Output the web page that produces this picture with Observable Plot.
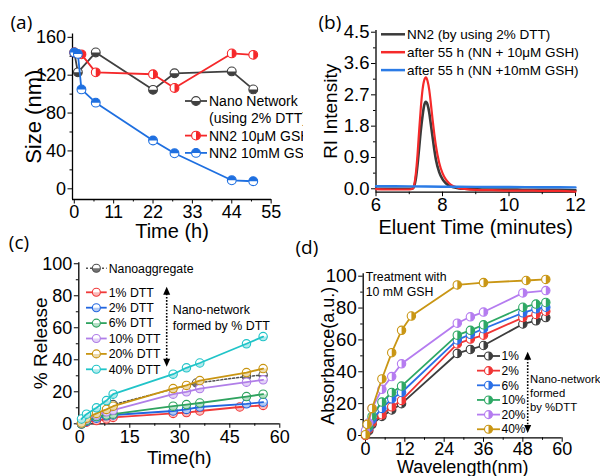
<!DOCTYPE html>
<html><head><meta charset="utf-8">
<script src="https://cdn.jsdelivr.net/npm/d3@7"></script>
<script src="https://cdn.jsdelivr.net/npm/@observablehq/plot@0.6"></script>
<style>
body{margin:0;background:#fff;}
#fig{position:relative;width:600px;height:476px;overflow:hidden;background:#fff;}
</style></head><body><div id="fig"></div>
<script>
// ---------- DATA ----------
// (a) size vs time
const aNanoTime = [0, 1, 6, 22, 28, 44, 50];
const aNanoSize = [144, 123, 144, 104.5, 122, 124, 105];
const aLowTime  = [0, 2, 6, 22, 28, 44, 50];
const aLowSize  = [144, 142, 123, 121, 106.5, 143, 141.5];
const aHighTime = [0, 1, 2, 6, 22, 28, 44, 50];
const aHighSize = [144, 142.5, 105, 91, 51, 37.5, 9, 8];
const aLabels = [["Nano Network", "(using 2% DTT)"], ["NN2 10μM GSH"], ["NN2 10mM GSH"]];
const aXTicks = [0, 11, 22, 33, 44, 55];
const aYTicks = [0, 40, 80, 120, 160];

// (b) GPC traces
const bTime = [6, 6.5, 7, 7.1, 7.15, 7.2, 7.25, 7.3, 7.35, 7.4, 7.45, 7.5, 7.55, 7.6, 7.65, 7.7, 7.75, 7.8, 7.9, 8.0, 8.1, 8.2, 8.3, 8.4, 8.5, 8.7, 9, 9.5, 10, 10.5, 11, 11.5, 12];
const bNN2    = [0, 0, 0, 0.01, 0.08, 0.3, 0.7, 1.2, 1.7, 2.1, 2.4, 2.5, 2.42, 2.2, 1.85, 1.5, 1.15, 0.85, 0.48, 0.28, 0.16, 0.09, 0.05, 0.03, 0.01, 0, -0.01, -0.02, -0.02, -0.03, -0.03, -0.03, -0.04];
const bLowGSH = [-0.01, -0.02, -0.02, 0, 0.12, 0.45, 1.0, 1.7, 2.35, 2.85, 3.12, 3.2, 3.1, 2.85, 2.45, 2.0, 1.6, 1.25, 0.75, 0.45, 0.27, 0.16, 0.09, 0.05, 0.02, -0.01, -0.03, -0.04, -0.05, -0.05, -0.06, -0.06, -0.08];
const bHighTime = [6, 7, 8, 9, 10, 11, 12];
const bHighGSH  = [0.075, 0.07, 0.06, 0.055, 0.05, 0.045, 0.04];
const bLabels = ["NN2 (by using 2% DTT)", "after 55 h (NN + 10μM GSH)", "after 55 h (NN +10mM GSH)"];
const bXTicks = [6, 8, 10, 12];
const bYTicks = [0, 0.9, 1.8, 2.7, 3.6, 4.5];

// (c) % release
const cTime    = [0.5, 2, 5, 8, 10, 28, 32, 36, 50, 55];
const cRedTime = [0.5, 2, 5, 8, 10, 28, 32, 36, 48, 55];
const cAggTime = [0.5, 2, 5, 8, 10, 35, 50, 55];
const cAgg   = [0, 2, 5, 8, 12, 25.5, 29.5, 30.5];
const cDTT1  = [0, 1, 2, 3, 4, 6.5, 7, 8, 10.5, 11.5];
const cDTT2  = [0, 1.5, 3.5, 5, 5.5, 8, 9, 10.5, 12.5, 13.5];
const cDTT6  = [0, 2, 4.5, 5.5, 6, 11, 12, 13, 17, 18.5];
const cDTT10 = [0.5, 3, 5.5, 7.5, 8.5, 18.5, 20, 22, 26, 27.5];
const cDTT20 = [0.5, 3.5, 6.5, 9, 11, 22, 24, 27, 32, 34.5];
const cDTT40 = [3, 6, 10, 14.5, 18.5, 31, 35, 38, 50, 54.5];
const cLabels = ["1% DTT", "2% DTT", "6% DTT", "10% DTT", "20% DTT", "40% DTT"];
const cXTicks = [0, 15, 30, 45, 60];
const cYTicks = [0, 20, 40, 60, 80, 100];

// (d) absorbance
const dTime     = [0, 1, 2, 5, 8, 11, 28, 32, 36, 48, 52, 55];
const dTime20   = [0, 1, 2, 5, 8, 11, 28, 32, 36, 48, 55];
const dTime40   = [0, 0.5, 2, 5, 8, 11, 14, 28, 36, 49, 55];
const dP1  = [0, 3, 7, 12, 16, 20, 51.5, 54, 56.5, 70, 72, 74];
const dP2  = [0, 4, 8, 13, 18, 22, 57.5, 60.5, 63, 74, 76, 78];
const dP6  = [1, 5, 10, 17, 23, 27, 60, 63.5, 67, 77, 79.5, 80.5];
const dP10 = [2, 6, 12, 21, 27, 31, 63, 66, 69.5, 80.5, 82.5, 83.5];
const dP20 = [3, 8, 17, 29, 37, 45, 70.5, 74.5, 77.5, 89.5, 91];
const dP40 = [0.5, 7, 17, 35.5, 52, 66, 75, 94.5, 96, 97.3, 98];
const dLabels = ["1%", "2%", "6%", "10%", "20%", "40%"];
const dXTicks = [0, 12, 24, 36, 48, 60];
const dYTicks = [0, 20, 40, 60, 80, 100];

// ---------- HELPERS ----------
const FONT = "'Liberation Sans', Arial, Helvetica, sans-serif";
const LABFONT = "'Open Sans', 'Liberation Sans', sans-serif";
function halfSym(a0) {
  return {draw(ctx, size) {
    const r = Math.sqrt(size / Math.PI);
    ctx.moveTo(r * Math.cos(a0), r * Math.sin(a0));
    ctx.arc(0, 0, r, a0, a0 + Math.PI);
    ctx.closePath();
  }};
}
const TOP = halfSym(Math.PI), BOTTOM = halfSym(0), RIGHT = halfSym(-Math.PI / 2), LEFT = halfSym(Math.PI / 2);
const rows = (xs, ys) => xs.map((x, i) => ({x, y: ys[i]}));
const mids = t => t.slice(1).map((v, i) => (v + t[i]) / 2);

function series(data, color, sym, o = {}) {
  const r = o.r ?? 4.4, sw = o.sw ?? 1.8;
  const line = Plot.line(data, {x: "x", y: "y", stroke: color, strokeWidth: sw, strokeDasharray: o.dash, curve: o.curve ?? "linear"});
  if (!sym) return [line];
  const circ = Plot.dot(data, {x: "x", y: "y", r, fill: "white", stroke: color, strokeWidth: 1.1});
  const half = Plot.dot(data, {x: "x", y: "y", r, symbol: sym, fill: color, fillOpacity: o.halfOpacity ?? 1});
  return o.lineOnTop ? [circ, half, line] : [line, circ, half];
}

function axes(xTicks, yTicks, o = {}) {
  const fs = o.fontSize ?? 18;
  return [
    Plot.axisX({ticks: xTicks, tickSize: 4.5, tickPadding: o.xPad ?? 2, fontSize: o.xFontSize ?? fs, label: null, fontFamily: FONT, tickFormat: o.xFormat ?? d3.format("d")}),
    Plot.axisX(mids(xTicks), {tickSize: 2.5, fill: "none", label: null, tickFormat: () => ""}),
    Plot.axisY({ticks: yTicks, tickSize: 4.5, tickPadding: o.yPad ?? 2, fontSize: fs, label: null, fontFamily: FONT, tickFormat: o.yFormat ?? d3.format("d")}),
    Plot.axisY(mids(yTicks), {tickSize: 2.5, fill: "none", label: null, tickFormat: () => ""}),
    Plot.ruleX([o.xDomain[0]], {strokeWidth: 1.3}),
    Plot.ruleY([o.yDomain[0]], {strokeWidth: 1.3})
  ];
}

function titles(xTitle, yTitle, xdy, ydx, xfs = 20, yfs = 20) {
  return [
    Plot.text([xTitle], {frameAnchor: "bottom", dy: xdy, text: d => d, fontSize: xfs, textAnchor: "middle", lineAnchor: "middle", fontFamily: FONT}),
    Plot.text([yTitle], {frameAnchor: "left", dx: ydx, rotate: -90, text: d => d, fontSize: yfs, textAnchor: "middle", lineAnchor: "middle", fontFamily: FONT})
  ];
}
function panelLabel(t, dx, dy) {
  return Plot.text([t], {frameAnchor: "top-left", dx, dy, text: d => d, fontSize: 19, textAnchor: "start", lineAnchor: "middle", fontFamily: LABFONT});
}

// legend (frame-relative pixel layout)
function legend(entries, o) {
  return function (index, scales, values, dims) {
    const g = d3.create("svg:g").attr("font-family", FONT).attr("font-size", o.fontSize).attr("text-anchor", "start");
    if (o.clip) {
      const id = "clip" + Math.random().toString(36).slice(2);
      g.append("clipPath").attr("id", id).append("rect").attr("x", 0).attr("y", 0).attr("width", dims.width).attr("height", dims.height);
      g.attr("clip-path", `url(#${id})`);
    }
    const X = dims.marginLeft + o.x, Y0 = dims.marginTop + o.y;
    let row = 0;
    for (const e of entries) {
      const y = Y0 + row * o.step;
      g.append("line").attr("x1", X).attr("x2", X + o.len).attr("y1", y).attr("y2", y)
        .attr("stroke", e.color).attr("stroke-width", e.width ?? 1.8).attr("stroke-dasharray", e.dash ?? null);
      if (e.sym) {
        const cx = X + o.len / 2;
        g.append("circle").attr("cx", cx).attr("cy", y).attr("r", o.r).attr("fill", "white").attr("stroke", e.color).attr("stroke-width", 1.1);
        const p = d3.path(); e.sym.draw(p, o.r * o.r * Math.PI);
        g.append("path").attr("transform", `translate(${cx},${y})`).attr("d", p.toString()).attr("fill", e.color).attr("fill-opacity", e.halfOpacity ?? 1);
      }
      const lines = [].concat(e.label);
      lines.forEach((t, j) => g.append("text").attr("x", X + o.len + o.gap).attr("y", y + j * o.step).attr("dy", "0.35em").attr("fill", "black").text(t));
      row += lines.length;
    }
    return g.node();
  };
}
function note(lines, o) {
  return function (index, scales, values, dims) {
    const g = d3.create("svg:g").attr("font-family", FONT).attr("font-size", o.fontSize).attr("text-anchor", "start");
    lines.forEach((t, j) => g.append("text").attr("x", dims.marginLeft + o.x).attr("y", dims.marginTop + o.y + j * o.step).attr("dy", "0.35em").attr("fill", "black").text(t));
    return g.node();
  };
}
function dottedArrow(o) {
  return function (index, scales, values, dims) {
    const g = d3.create("svg:g");
    const x = dims.marginLeft + o.x, y1 = dims.marginTop + o.y1, y2 = dims.marginTop + o.y2, h = 8, w = 3.5;
    g.append("line").attr("x1", x).attr("x2", x).attr("y1", y1 + h - 1).attr("y2", y2 - h + 1)
      .attr("stroke", "black").attr("stroke-width", 1.6).attr("stroke-dasharray", "1.6,1.6");
    g.append("path").attr("d", `M${x},${y1}L${x - w},${y1 + h}L${x + w},${y1 + h}Z`).attr("fill", "black");
    g.append("path").attr("d", `M${x},${y2}L${x - w},${y2 - h}L${x + w},${y2 - h}Z`).attr("fill", "black");
    return g.node();
  };
}

const fig = document.getElementById("fig");
function panel(p) {
  const svg = Plot.plot({
    width: p.width, height: p.height,
    marginLeft: p.m[0], marginRight: p.m[1], marginTop: p.m[2], marginBottom: p.m[3],
    x: {domain: p.xDomain, label: null},
    y: {domain: p.yDomain, label: null},
    style: {fontFamily: FONT, background: "transparent", overflow: "visible", color: "black"},
    marks: p.marks
  });
  svg.style.position = "absolute";
  svg.style.left = p.left + "px";
  svg.style.top = p.top + "px";
  fig.appendChild(svg);
}

// ---------- PANEL (a) ----------
{
  const xDomain = [-0.5, 55.1], yDomain = [-11.3, 163.5];
  const cols = ["#404040", "#f5282a", "#1e6fe0"], syms = [BOTTOM, RIGHT, TOP];
  panel({
    left: 0, top: 0, width: 303, height: 232, m: [72, 32, 33.5, 33], xDomain, yDomain,
    marks: [
      ...axes(aXTicks, aYTicks, {xDomain, yDomain, xPad: 1.5}),
      ...series(rows(aNanoTime, aNanoSize), cols[0], syms[0]),
      ...series(rows(aLowTime, aLowSize), cols[1], syms[1]),
      ...series(rows(aHighTime, aHighSize), cols[2], syms[2]),
      legend(aLabels.map((l, i) => ({label: l, color: cols[i], sym: syms[i]})), {x: 113, y: 67.5, step: 17.3, len: 22, gap: 2, r: 4.4, fontSize: 14, clip: true}),
      ...titles("Time (h)", "Size (nm)", 32.5, -39, 20, 22),
      panelLabel("(a)", -62, -11.5)
    ]
  });
}

// ---------- PANEL (b) ----------
{
  const xDomain = [6, 12], yDomain = [-0.098, 4.549];
  const cols = ["#3a3a3a", "#f52a2a", "#2b7be6"];
  panel({
    left: 303, top: 0, width: 297, height: 232, m: [72.5, 25, 30, 40.3], xDomain, yDomain,
    marks: [
      ...axes(bXTicks, bYTicks, {xDomain, yDomain, yFormat: d3.format(".1f"), fontSize: 18.5, xPad: 1.5}),
      ...series(rows(bTime, bNN2), cols[0], null, {sw: 2.6, curve: "monotone-x"}),
      ...series(rows(bTime, bLowGSH), cols[1], null, {sw: 2.2, curve: "monotone-x"}),
      ...series(rows(bHighTime, bHighGSH), cols[2], null, {sw: 2.4, curve: "monotone-x"}),
      legend(bLabels.map((l, i) => ({label: l, color: cols[i], width: 2.5})), {x: 5.5, y: 4.3, step: 17.9, len: 24, gap: 2, r: 4, fontSize: 13.5}),
      ...titles("Eluent Time (minutes)", "RI Intensity", 35.5, -45, 20, 19),
      panelLabel("(b)", -57.5, -8)
    ]
  });
}

// ---------- PANEL (c) ----------
{
  const xDomain = [-0.3, 60], yDomain = [0, 100.6];
  const cols = ["#f03a3a", "#2266e0", "#2fa35f", "#b07ee8", "#c99512", "#20c4c8"];
  const vals = [cDTT1, cDTT2, cDTT6, cDTT10, cDTT20, cDTT40];
  const opt = {r: 4.2, sw: 1.8, halfOpacity: 0.35, lineOnTop: true};
  panel({
    left: 0, top: 232, width: 293, height: 244, m: [78.3, 13.7, 30.3, 52.7], xDomain, yDomain,
    marks: [
      ...axes(cXTicks, cYTicks, {xDomain, yDomain, xPad: 2}),
      ...series(rows(cAggTime, cAgg), "#505050", BOTTOM, {r: 4.2, sw: 1.5, dash: "2,2", halfOpacity: 0.8}),
      ...vals.flatMap((v, i) => series(rows(i === 0 ? cRedTime : cTime, v), cols[i], BOTTOM, opt)),
      legend([{label: "Nanoaggregate", color: "#505050", sym: BOTTOM, dash: "2,2", width: 1.5, halfOpacity: 0.8}], {x: 7.7, y: 6, step: 15.4, len: 20.7, gap: 2, r: 4, fontSize: 12.3}),
      legend(cLabels.map((l, i) => ({label: l, color: cols[i], sym: BOTTOM, halfOpacity: 0.35})), {x: 7.7, y: 30, step: 15.4, len: 20.7, gap: 2, r: 4, fontSize: 12.3}),
      note(["Nano-network", "formed by % DTT"], {x: 94.4, y: 47.7, step: 15.7, fontSize: 12.4}),
      dottedArrow({x: 88.4, y1: 24.4, y2: 104.4}),
      ...titles("Time(h)", "% Release", 34, -38.3, 19, 19),
      panelLabel("(c)", -70, -20.3)
    ]
  });
}

// ---------- PANEL (d) ----------
{
  const xDomain = [-0.7, 60], yDomain = [-1.44, 101.5];
  const cols = ["#3d3d3d", "#f03535", "#2a6fe6", "#2ea865", "#b57cf0", "#c99614"];
  const sets = [[dTime, dP1], [dTime, dP2], [dTime, dP6], [dTime, dP10], [dTime20, dP20], [dTime40, dP40]];
  panel({
    left: 293, top: 232, width: 307, height: 244, m: [69.7, 38.3, 41.3, 38.7], xDomain, yDomain,
    marks: [
      ...axes(dXTicks, dYTicks, {xDomain, yDomain, fontSize: 18.5, xFontSize: 18, xPad: 0}),
      ...sets.flatMap(([t, v], i) => series(rows(t, v), cols[i], RIGHT, {r: 4.2, sw: 1.8})),
      legend(dLabels.map((l, i) => ({label: l, color: cols[i], sym: RIGHT})), {x: 114.3, y: 82.7, step: 14.65, len: 23, gap: 1.5, r: 4, fontSize: 12}),
      note(["Treatment with", "10 mM GSH"], {x: 3, y: 3.4, step: 15, fontSize: 12.3}),
      note(["Nano-network", "formed", "by %DTT"], {x: 167.3, y: 105.7, step: 14, fontSize: 11.3}),
      dottedArrow({x: 165, y1: 78.4, y2: 159.7}),
      ...titles("Wavelength(nm)", "Absorbance(a.u.)", 29.8, -34.5, 18, 18),
      panelLabel("(d)", -67.7, -26.3)
    ]
  });
}
</script></body></html>
